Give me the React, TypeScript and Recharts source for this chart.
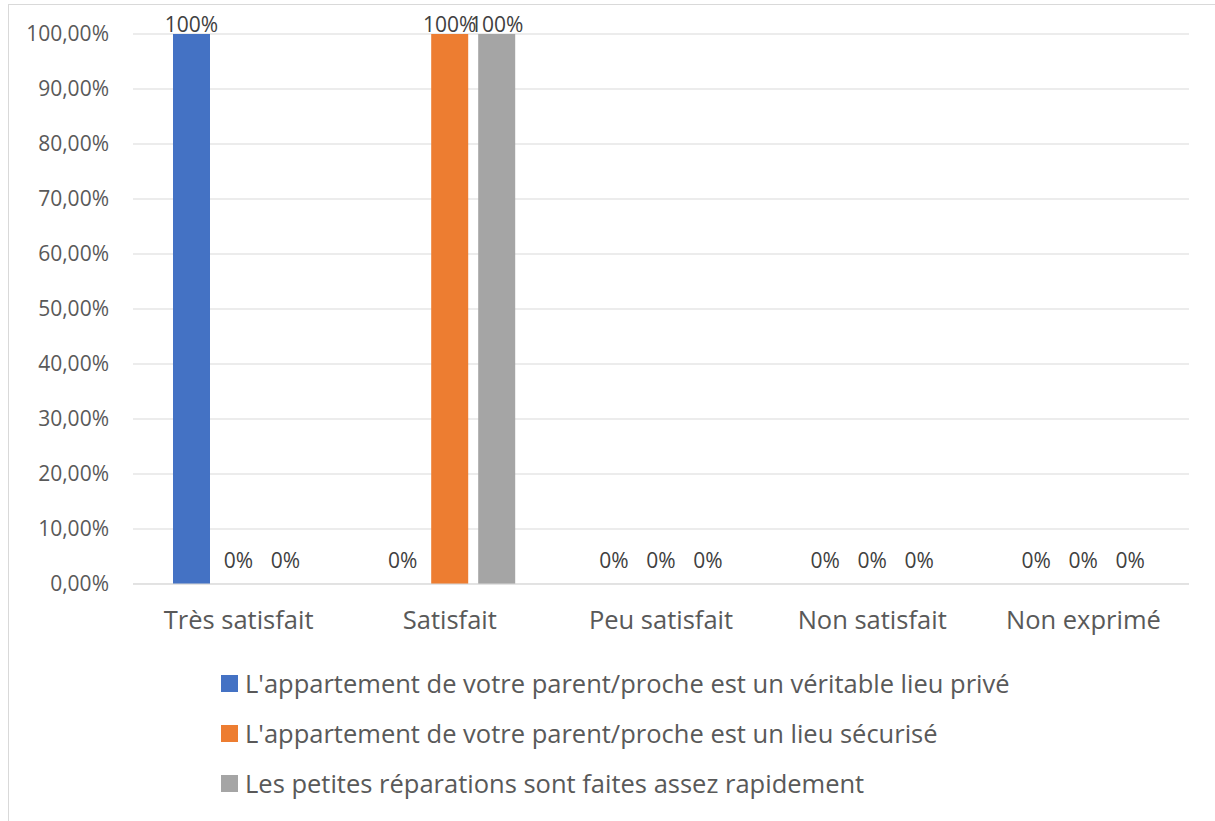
import React from 'react';
import { BarChart, Bar, XAxis, YAxis, CartesianGrid, Legend } from 'recharts';

const categories = ['Très satisfait', 'Satisfait', 'Peu satisfait', 'Non satisfait', 'Non exprimé'];
const lieuPrive = [1, 0, 0, 0, 0];
const lieuSecurise = [0, 1, 0, 0, 0];
const reparations = [0, 1, 0, 0, 0];
const yTicks = [0, 0.1, 0.2, 0.3, 0.4, 0.5, 0.6, 0.7, 0.8, 0.9, 1];

const series = [
  { key: 'prive', name: "L'appartement de votre parent/proche est un véritable lieu privé", color: '#4472C4' },
  { key: 'securise', name: "L'appartement de votre parent/proche est un lieu sécurisé", color: '#ED7D31' },
  { key: 'reparations', name: 'Les petites réparations sont faites assez rapidement', color: '#A5A5A5' },
];

const data = categories.map((c, i) => ({
  name: c,
  prive: lieuPrive[i],
  securise: lieuSecurise[i],
  reparations: reparations[i],
}));

const FONT = '"Open Sans", sans-serif';

// bar + its data label, so zero-height bars still get their "0%" label
const BarWithLabel = (props: any) => {
  const { x, y, width, height, fill, value } = props;
  const v = Array.isArray(value) ? value[1] - value[0] : value;
  const cy = v === 0 ? y - 24 : y - 10;
  return (
    <g>
      {height > 0 && <rect x={x} y={y} width={width} height={height} fill={fill} />}
      <text x={x + width / 2} y={cy} textAnchor="middle" dominantBaseline="central"
        fill="#404040" fontSize={21} fontFamily={FONT}>
        {Math.round(v * 100) + '%'}
      </text>
    </g>
  );
};

const LegendContent = () => (
  <div style={{ fontFamily: FONT, fontSize: 25.5, color: '#595959' }}>
    {series.map((s) => (
      <div key={s.key} style={{ height: 50, display: 'flex', alignItems: 'center', whiteSpace: 'nowrap' }}>
        <span style={{ display: 'inline-block', width: 17, height: 17, background: s.color, marginRight: 7 }} />
        <span>{s.name}</span>
      </div>
    ))}
  </div>
);

export default function App() {
  return (
    <div style={{ position: 'absolute', left: 8, top: 4, width: 1210, height: 820, border: '1px solid #d9d9d9', background: '#fff' }}>
      <BarChart width={1208} height={815} data={data}
        margin={{ top: 29, right: 28, bottom: 206, left: 14 }}
        barCategoryGap={40} barGap={10}>
        <CartesianGrid vertical={false} stroke="#d9d9d9" />
        <XAxis dataKey="name" axisLine={{ stroke: '#d9d9d9' }} tickLine={false} tickSize={0} tickMargin={27}
          tick={{ fill: '#595959', fontSize: 25.5, fontFamily: FONT }} />
        <YAxis width={110} domain={[0, 1]} ticks={yTicks} axisLine={false} tickLine={false} tickSize={0} tickMargin={24}
          tickFormatter={(v: number) => (v * 100).toFixed(2).replace('.', ',') + '%'}
          tick={{ fill: '#595959', fontSize: 21, fontFamily: FONT }} />
        <Legend layout="vertical" align="center" verticalAlign="middle" content={<LegendContent />}
          wrapperStyle={{ top: 653, left: 212, width: 'auto' }} />
        {series.map((s) => (
          <Bar key={s.key} dataKey={s.key} name={s.name} fill={s.color} isAnimationActive={false}
            shape={<BarWithLabel />} />
        ))}
      </BarChart>
    </div>
  );
}
